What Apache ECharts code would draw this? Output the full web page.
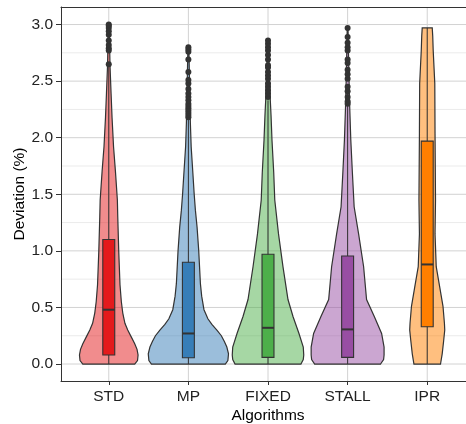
<!DOCTYPE html>
<html>
<head>
<meta charset="utf-8">
<script src="https://cdn.jsdelivr.net/npm/echarts@6/dist/echarts.min.js"></script>
<style>
html, body { margin: 0; padding: 0; background: #fff; }
#chart { width: 466px; height: 424px; }
</style>
</head>
<body>
<div id="chart"></div>
<script>
const categories = ['STD', 'MP', 'FIXED', 'STALL', 'IPR'];
const xPositions = [0, 1, 2, 3, 4];
const yTicks = [0, 0.5, 1, 1.5, 2, 2.5, 3];
const yMinorTicks = [0.25, 0.75, 1.25, 1.75, 2.25, 2.75];

// [lower whisker, q1, median, q3, upper whisker]
const boxStats = [
    [0, 0.08, 0.48, 1.10, 2.63],
    [0, 0.056, 0.27, 0.90, 2.16],
    [0, 0.059, 0.32, 0.97, 2.33],
    [0, 0.059, 0.306, 0.954, 2.29],
    [0, 0.33, 0.88, 1.97, 2.97]
];

const outliers = [
    [2.65, 2.77, 2.79, 2.82, 2.86, 2.91, 2.94, 2.97, 2.99, 3.0],
    [2.18, 2.2, 2.22, 2.24, 2.26, 2.28, 2.3, 2.33, 2.36, 2.39, 2.43, 2.48, 2.51, 2.58, 2.69, 2.76, 2.78, 2.8],
    [2.36, 2.39, 2.42, 2.45, 2.48, 2.52, 2.55, 2.58, 2.62, 2.64, 2.69, 2.73, 2.77, 2.8, 2.83, 2.86],
    [2.3, 2.32, 2.36, 2.41, 2.45, 2.52, 2.56, 2.6, 2.66, 2.69, 2.77, 2.8, 2.84, 2.89, 2.97],
    []
];

// violin outlines: [deviation, half width as share of the category width]
const violinSTD = [
    [0, 0.326], [0.03, 0.361], [0.08, 0.368], [0.13, 0.355], [0.18, 0.326],
    [0.24, 0.282], [0.30, 0.238], [0.36, 0.203], [0.45, 0.176], [0.55, 0.158],
    [0.7, 0.141], [1.0, 0.125], [1.3, 0.113], [1.45, 0.108], [1.7, 0.084],
    [1.92, 0.060], [2.18, 0.041], [2.39, 0.029], [2.63, 0.016], [2.8, 0.011], [3.0, 0.005]
];
const violinMP = [
    [0, 0.464], [0.03, 0.496], [0.09, 0.504], [0.15, 0.483], [0.2, 0.452],
    [0.25, 0.414], [0.30, 0.358], [0.35, 0.295], [0.4, 0.245], [0.48, 0.196],
    [0.6, 0.167], [0.71, 0.151], [1.0, 0.130], [1.21, 0.109], [1.36, 0.088],
    [1.5, 0.073], [1.69, 0.056], [1.92, 0.035], [2.13, 0.025], [2.3, 0.020],
    [2.5, 0.014], [2.7, 0.009], [2.8, 0.005]
];
const violinFIXED = [
    [0, 0.414], [0.04, 0.443], [0.08, 0.449], [0.15, 0.443], [0.27, 0.389],
    [0.42, 0.314], [0.57, 0.251], [0.86, 0.188], [1.15, 0.132], [1.45, 0.085],
    [1.69, 0.072], [1.98, 0.050], [2.2, 0.038], [2.33, 0.029], [2.5, 0.019],
    [2.7, 0.011], [2.85, 0.005]
];
const violinSTALL = [
    [0, 0.414], [0.04, 0.452], [0.08, 0.458], [0.15, 0.458], [0.27, 0.427],
    [0.42, 0.335], [0.57, 0.238], [0.86, 0.201], [1.15, 0.138], [1.39, 0.082],
    [1.69, 0.060], [1.98, 0.040], [2.3, 0.025], [2.6, 0.015], [2.97, 0.005]
];
const violinIPR = [
    [0, 0.167], [0.09, 0.188], [0.21, 0.207], [0.3, 0.220], [0.36, 0.216],
    [0.51, 0.198], [0.68, 0.157], [0.86, 0.113], [1.15, 0.098], [1.45, 0.104],
    [2.04, 0.098], [2.48, 0.095], [2.77, 0.075], [2.9, 0.069], [2.97, 0.063]
];
const violins = [violinSTD, violinMP, violinFIXED, violinSTALL, violinIPR];

const colors = ['#E41A1C', '#377EB8', '#4DAF4A', '#984EA3', '#FF7F00'];
const outline = '#333333';
const font = "'Liberation Sans', Arial, sans-serif";

const chart = echarts.init(document.getElementById('chart'));

function renderHLine(params, api) {
    const cs = params.coordSys;
    const py = api.coord([0, api.value(1)])[1];
    const major = api.value(2) === 1;
    return {
        type: 'line',
        shape: { x1: cs.x, y1: py, x2: cs.x + cs.width, y2: py },
        style: { stroke: major ? '#d2d2d2' : '#ebebeb', lineWidth: 1 }
    };
}

function renderVLine(params, api) {
    const cs = params.coordSys;
    const px = api.coord([api.value(0), 0])[0];
    return {
        type: 'line',
        shape: { x1: px, y1: cs.y, x2: px, y2: cs.y + cs.height },
        style: { stroke: '#d2d2d2', lineWidth: 1 }
    };
}

function renderViolin(params, api) {
    const i = api.value(0);
    const bw = api.size([1, 0])[0];
    const cx = api.coord([i, 0])[0];
    const y = function (v) { return api.coord([i, v])[1]; };
    const shape = violins[i];
    const right = shape.map(function (p) { return [cx + p[1] * bw, y(p[0])]; });
    const left = shape.slice().reverse().map(function (p) { return [cx - p[1] * bw, y(p[0])]; });
    const s = boxStats[i];
    const hw = 0.075 * bw;
    return {
        type: 'group',
        children: [
            {
                type: 'polygon',
                shape: { points: right.concat(left) },
                style: { fill: echarts.color.modifyAlpha(colors[i], 0.5), stroke: outline, lineWidth: 1.2 }
            },
            {
                type: 'line',
                shape: { x1: cx, y1: y(s[0]), x2: cx, y2: y(s[4]) },
                style: { stroke: outline, lineWidth: 1 }
            },
            {
                type: 'rect',
                shape: { x: cx - hw, y: y(s[3]), width: 2 * hw, height: y(s[1]) - y(s[3]) },
                style: { fill: colors[i], stroke: outline, lineWidth: 1.1 }
            },
            {
                type: 'line',
                shape: { x1: cx - hw, y1: y(s[2]), x2: cx + hw, y2: y(s[2]) },
                style: { stroke: outline, lineWidth: 2 }
            }
        ]
    };
}

const hLines = yMinorTicks.map(function (v) { return [0, v, 0]; })
    .concat(yTicks.map(function (v) { return [0, v, 1]; }));
const outlierPoints = [];
outliers.forEach(function (arr, i) {
    arr.forEach(function (v) { outlierPoints.push([xPositions[i], v]); });
});

const option = {
    animation: false,
    textStyle: { fontFamily: font },
    grid: { left: 61, top: 7, width: 414, height: 374, outerBoundsMode: 'none', containLabel: false },
    xAxis: [{
        type: 'value',
        min: -0.6,
        max: 4.6,
        name: 'Algorithms',
        nameLocation: 'middle',
        nameGap: 27,
        nameMoveOverlap: false,
        nameTextStyle: { fontSize: 15.5, color: '#000', fontFamily: font },
        axisLine: { show: true, onZero: false, lineStyle: { color: outline, width: 1 } },
        axisTick: { show: true, length: 4, customValues: xPositions, lineStyle: { color: outline } },
        axisLabel: {
            fontSize: 15.5, color: '#222', margin: 8, fontFamily: font,
            customValues: xPositions,
            formatter: function (v) { return categories[Math.round(v)]; }
        },
        splitLine: { show: false }
    }, {
        type: 'value',
        min: -0.6,
        max: 4.6,
        position: 'top',
        axisLine: { show: true, onZero: false, lineStyle: { color: outline, width: 1 } },
        axisTick: { show: false },
        axisLabel: { show: false },
        splitLine: { show: false }
    }],
    yAxis: {
        type: 'value',
        min: -0.15,
        max: 3.155,
        name: 'Deviation (%)',
        nameLocation: 'middle',
        nameGap: 33,
        nameMoveOverlap: false,
        nameTextStyle: { fontSize: 15.5, color: '#000', fontFamily: font },
        axisLine: { show: true, onZero: false, lineStyle: { color: outline, width: 1 } },
        axisTick: { show: true, length: 5, customValues: yTicks, lineStyle: { color: outline } },
        axisLabel: {
            fontSize: 15.5, color: '#222', margin: 8, fontFamily: font,
            customValues: yTicks,
            formatter: function (v) { return v.toFixed(1); }
        },
        splitLine: { show: false }
    },
    series: [
        {
            type: 'custom',
            silent: true,
            z: 0,
            renderItem: renderHLine,
            encode: { x: 0, y: 1 },
            data: hLines
        },
        {
            type: 'custom',
            silent: true,
            z: 0,
            renderItem: renderVLine,
            encode: { x: 0, y: 1 },
            data: xPositions.map(function (p) { return [p, 0]; })
        },
        {
            type: 'custom',
            z: 2,
            renderItem: renderViolin,
            encode: { x: 0, y: 1 },
            data: xPositions.map(function (p) { return [p, 0]; })
        },
        {
            type: 'scatter',
            z: 3,
            symbolSize: 6,
            itemStyle: { color: '#333333', opacity: 1 },
            data: outlierPoints
        }
    ]
};

chart.setOption(option);

window.addEventListener('resize', function () {
    chart.resize();
});
</script>
</body>
</html>
